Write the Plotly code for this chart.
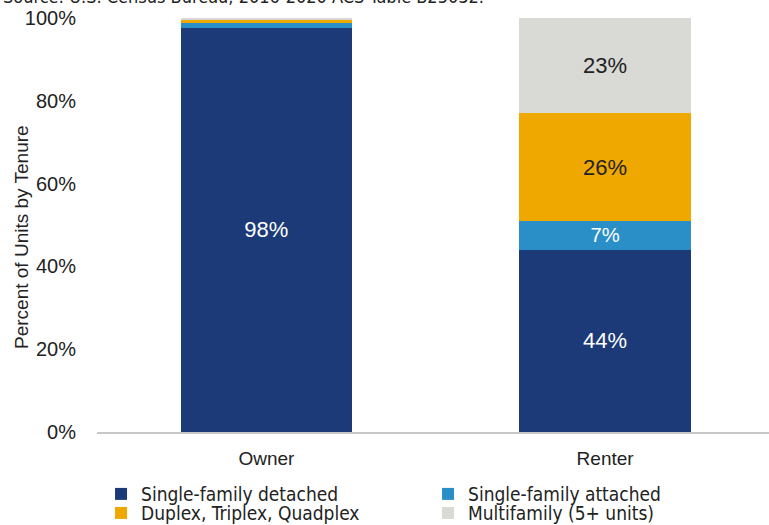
import plotly.graph_objects as go

# Housing structure type by tenure (percent of occupied units)
tenure = ["Owner", "Renter"]
detached = [97.6, 44]
attached = [1.2, 7]
duplex = [0.8, 26]
multifamily = [0.4, 23]

series_names = ["Single-family detached", "Single-family attached",
                "Duplex, Triplex, Quadplex", "Multifamily (5+ units)"]
series_values = [detached, attached, duplex, multifamily]
series_colors = ["#1c3a78", "#2a8fc7", "#efa800", "#d9d9d6"]
label_colors = ["white", "white", "#222222", "#222222"]
# first two series sit in the top legend row, the rest in the second row
legend_rows = ["legend", "legend", "legend2", "legend2"]

y_ticks = [0, 20, 40, 60, 80, 100]
y_tick_labels = ["0%", "20%", "40%", "60%", "80%", "100%"]

fig = go.Figure()
for name, vals, color, lc, lg in zip(series_names, series_values, series_colors,
                                     label_colors, legend_rows):
    labels = [f"{round(v)}%" if v >= 5 else "" for v in vals]
    fig.add_trace(go.Bar(
        x=tenure, y=vals, name=name, legend=lg,
        marker=dict(color=color, line=dict(width=0)),
        width=0.507,
        text=labels, textposition="inside", insidetextanchor="middle",
        textangle=0,
        textfont=dict(family="Liberation Sans, Arial, sans-serif", size=22, color=lc),
        hoverinfo="skip",
    ))

fig.add_annotation(
    text="Source: U.S. Census Bureau, 2016-2020 ACS Table B25032.",
    xref="paper", yref="paper", x=-0.1435, y=1.022,
    xanchor="left", yanchor="bottom", showarrow=False,
    font=dict(family="DejaVu Sans Condensed, Liberation Sans, sans-serif", size=18, color="#222222"),
)

# y-axis title placed beside the tick labels
fig.add_annotation(
    text="Percent of Units by Tenure",
    xref="paper", yref="paper", x=-0.1123, y=0.47,
    xanchor="center", yanchor="middle", textangle=-90, showarrow=False,
    font=dict(family="Liberation Sans, Arial, sans-serif", size=19, color="#222222"),
)

legend_style = dict(
    orientation="h", xanchor="left", yanchor="top",
    entrywidth=282, entrywidthmode="pixels",
    traceorder="normal",
    font=dict(family="DejaVu Sans Condensed, Liberation Sans, sans-serif", size=19, color="#222222"),
    itemwidth=30, bgcolor="rgba(0,0,0,0)",
)

fig.update_layout(
    barmode="stack",
    width=769, height=525,
    margin=dict(l=96.5, r=0, t=18, b=93, autoexpand=False),
    paper_bgcolor="white", plot_bgcolor="white",
    font=dict(family="Liberation Sans, Arial, sans-serif", size=19, color="#222222"),
    showlegend=True,
    legend=dict(x=0.006, y=-0.104, **legend_style),
    legend2=dict(x=0.006, y=-0.150, **legend_style),
    xaxis=dict(
        range=[-0.5, 1.4838],
        showline=True, linecolor="#c8c8c8", linewidth=1.5,
        ticks="", showgrid=False,
        tickfont=dict(size=19), ticklabelstandoff=8,
    ),
    yaxis=dict(
        range=[0, 100],
        tickvals=y_ticks, ticktext=y_tick_labels,
        showgrid=False, zeroline=False, showline=False,
        ticks="", tickfont=dict(size=20), ticklabelstandoff=20,
    ),
)

fig.write_html("out.html")
